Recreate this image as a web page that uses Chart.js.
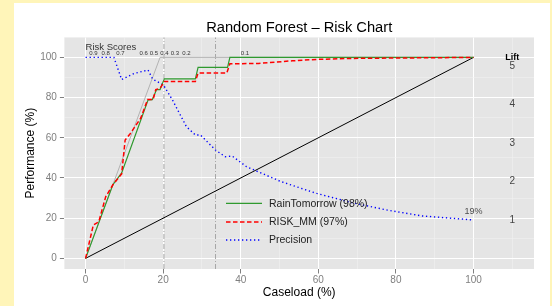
<!DOCTYPE html>
<html>
<head>
<meta charset="utf-8">
<script src="https://cdn.jsdelivr.net/npm/chart.js@4"></script>
<style>
  html, body { margin: 0; padding: 0; }
  body { width: 552px; height: 306px; background: #fff5b9; position: relative; overflow: hidden; }
  #sheet { position: absolute; left: 14px; top: 3px; width: 536px; height: 303px; background: #fff; }
  #riskChart { position: absolute; left: 0; top: 0; }
</style>
</head>
<body>
<div id="sheet"></div>
<canvas id="riskChart" width="552" height="306"></canvas>
<script>
// values
const chartTitle = 'Random Forest \u2013 Risk Chart';

const recallCaseload = [0, 7.0, 9.3, 16.1, 17.2, 18.3, 19.2, 20.3, 28.3, 29.0, 36.6, 37.2, 100];
const recallValue    = [0, 36.5, 42.5, 78.8, 79, 84, 84, 89.3, 89.3, 95, 95, 100, 100];

const riskCaseload = [0, 2.0, 3.4, 5.2, 7.0, 9.3, 10.2, 11.5, 14.2, 16.0, 17.4, 18.1, 19.2, 20.3, 28.3, 29.0, 36.4, 37.2, 44.6, 53.3, 59.6, 68.7, 100];
const riskValue    = [0, 16.6, 18.2, 30.7, 36.5, 42, 58.9, 62, 69.7, 79, 79, 84, 84.6, 88, 88, 92.2, 92.2, 96.8, 97, 98.3, 99, 99.5, 100];

const precCaseload = [0, 7.3, 9.3, 12.5, 16.1, 17.3, 20.1, 22.4, 26, 28.3, 29.6, 33.5, 36, 37.8, 41.5, 50.5, 59.6, 68.7, 77.8, 86.8, 100];
const precValue    = [100, 100, 89, 92, 93.7, 89.2, 86.2, 78.8, 65.5, 61.4, 61.4, 53.9, 50.6, 50.9, 45.6, 38.1, 32.3, 27.7, 24, 21.1, 19.1];

const optimalCaseload = [0, 19.2, 100];
const optimalValue    = [0, 100, 100];
const baselineCaseload = [0, 100];
const baselineValue    = [0, 100];

const markerCaseload = [20.2, 33.5];

const scoreLabels   = ['0.9', '0.8', '0.7', '0.6', '0.5', '0.4', '0.3', '0.2', '0.1'];
const scoreCaseload = [2.0, 5.2, 9.0, 15.0, 17.6, 20.3, 23.0, 26.0, 41.1];

const liftTicks = [1, 2, 3, 4, 5];
const baseRate = 19.16;

const gridTicks = [0, 10, 20, 30, 40, 50, 60, 70, 80, 90, 100, 110];

const FONT = '"Liberation Sans", Arial, Helvetica, sans-serif';

function pts(xs, ys) {
    return xs.map((v, i) => ({ x: v, y: ys[i] }));
}

const datasets = [
    { label: 'RISK_MM (97%)', data: pts(riskCaseload, riskValue), borderColor: '#ff0000', borderWidth: 1.5, borderDash: [4.5, 2.5] },
    { label: 'RainTomorrow (98%)', data: pts(recallCaseload, recallValue), borderColor: '#2f9a2f', borderWidth: 1.2 },
    { label: 'Precision', data: pts(precCaseload, precValue), borderColor: '#0000ff', borderWidth: 1.4, borderDash: [1.3, 2.7] },
    { label: 'baseline', data: pts(baselineCaseload, baselineValue), borderColor: '#000000', borderWidth: 1 },
    { label: 'optimal', data: pts(optimalCaseload, optimalValue), borderColor: '#b3b3b3', borderWidth: 1 }
];
markerCaseload.forEach(c => {
    datasets.push({ label: 'marker', data: [{ x: c, y: -5.3 }, { x: c, y: 110 }], borderColor: '#a6a6a6', borderWidth: 1, borderDash: [5, 2, 1, 2] });
});

const legendRows = [1, 0, 2];

const riskPanel = {
    id: 'riskPanel',
    beforeDraw(chart) {
        const { ctx, chartArea: a } = chart;
        ctx.save();
        ctx.fillStyle = '#e5e5e5';
        ctx.fillRect(a.left, a.top, a.right - a.left, a.bottom - a.top);
        ctx.restore();
    },
    afterDraw(chart) {
        const { ctx, chartArea: a, scales: { x, y } } = chart;
        ctx.save();
        ctx.textAlign = 'center';
        ctx.textBaseline = 'middle';

        // title
        ctx.fillStyle = '#000';
        ctx.font = '14.7px ' + FONT;
        ctx.fillText(chartTitle, (a.left + a.right) / 2, 28);

        // risk score labels
        ctx.fillStyle = '#333';
        ctx.font = '6px ' + FONT;
        scoreLabels.forEach((s, i) => ctx.fillText(s, x.getPixelForValue(scoreCaseload[i]), y.getPixelForValue(102)));
        ctx.font = '9.5px ' + FONT;
        ctx.textAlign = 'left';
        ctx.fillText('Risk Scores', x.getPixelForValue(0), y.getPixelForValue(104.9));

        // lift axis
        ctx.textAlign = 'center';
        ctx.fillStyle = '#000';
        ctx.font = 'bold 9px ' + FONT;
        ctx.fillText('Lift', x.getPixelForValue(110), y.getPixelForValue(100));
        ctx.fillStyle = '#444';
        ctx.font = '10px ' + FONT;
        liftTicks.forEach(k => ctx.fillText(String(k), x.getPixelForValue(110), y.getPixelForValue(k * baseRate)));

        // final precision
        ctx.fillStyle = '#4d4d4d';
        ctx.font = '9px ' + FONT;
        ctx.fillText('19%', x.getPixelForValue(100), y.getPixelForValue(23.2));

        // legend
        ctx.font = '10.5px ' + FONT;
        ctx.textAlign = 'left';
        const rowY = [203.3, 222, 240];
        legendRows.forEach((di, r) => {
            const ds = chart.data.datasets[di];
            ctx.save();
            ctx.strokeStyle = ds.borderColor;
            ctx.lineWidth = ds.borderWidth;
            ctx.setLineDash(ds.borderDash || []);
            ctx.beginPath();
            ctx.moveTo(226, rowY[r]);
            ctx.lineTo(262, rowY[r]);
            ctx.stroke();
            ctx.restore();
            ctx.fillStyle = '#222';
            ctx.fillText(ds.label, 269, rowY[r] + 0.5);
        });
        ctx.restore();
    }
};

function gridColor(c) {
    return c.tick && c.tick.value % 20 === 0 ? '#ffffff' : '#f2f2f2';
}
function gridWidth(c) {
    return c.tick && c.tick.value % 20 === 0 ? 1 : 0.5;
}
function tickMarkColor(c) {
    return c.tick && c.tick.value % 20 === 0 && c.tick.value <= 100 ? '#808080' : 'rgba(0,0,0,0)';
}

new Chart(document.getElementById('riskChart'), {
    type: 'line',
    data: { datasets: datasets },
    options: {
        responsive: false,
        animation: false,
        parsing: false,
        layout: { padding: { left: 0, top: 37.3, right: 18, bottom: 0 } },
        elements: { point: { radius: 0 }, line: { tension: 0, fill: false } },
        plugins: { legend: { display: false }, tooltip: { enabled: false }, title: { display: false } },
        scales: {
            x: {
                type: 'linear',
                min: -5.46,
                max: 115.6,
                afterBuildTicks: s => { s.ticks = gridTicks.map(v => ({ value: v })); },
                afterFit: s => { s.height = 37; },
                border: { display: false },
                grid: { color: gridColor, lineWidth: gridWidth, tickColor: tickMarkColor, tickLength: 4.5, tickWidth: 1 },
                ticks: {
                    color: '#7f7f7f',
                    font: { family: FONT, size: 10 },
                    padding: 0.5,
                    maxRotation: 0,
                    autoSkip: false,
                    callback: v => (v % 20 === 0 && v <= 100 ? String(v) : '')
                },
                title: { display: true, text: 'Caseload (%)', color: '#000', font: { family: FONT, size: 12 }, padding: { top: 0, bottom: 6.1 } }
            },
            y: {
                type: 'linear',
                min: -5.3,
                max: 110,
                afterBuildTicks: s => { s.ticks = gridTicks.map(v => ({ value: v })); },
                afterFit: s => { s.width = 64.4; },
                border: { display: false },
                grid: { color: gridColor, lineWidth: gridWidth, tickColor: tickMarkColor, tickLength: 4.5, tickWidth: 1 },
                ticks: {
                    color: '#7f7f7f',
                    font: { family: FONT, size: 10 },
                    padding: 3,
                    autoSkip: false,
                    callback: v => (v % 20 === 0 && v <= 100 ? String(v) : '')
                },
                title: { display: true, text: 'Performance (%)', color: '#000', font: { family: FONT, size: 12 }, padding: { top: 23.8, bottom: 0 } }
            }
        }
    },
    plugins: [riskPanel]
});
</script>
</body>
</html>
